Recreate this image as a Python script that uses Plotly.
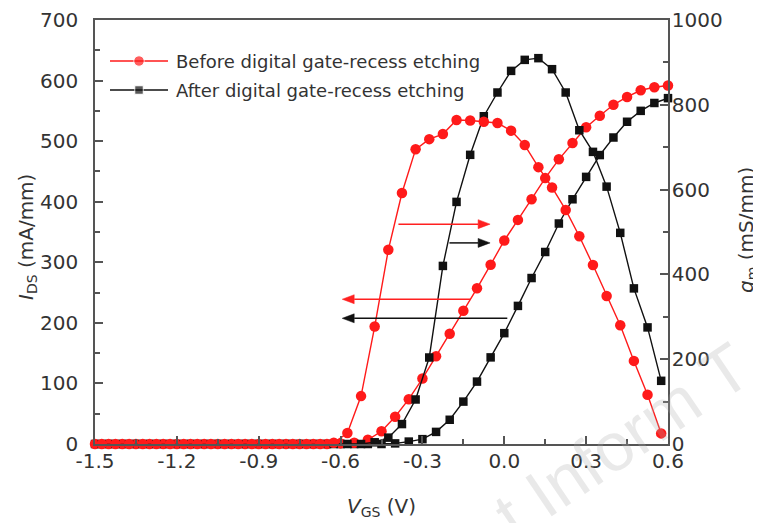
import plotly.graph_objects as go

# ---------------- data ----------------
vgs_ids = [-1.5, -1.45, -1.4, -1.35, -1.3, -1.25, -1.2, -1.15, -1.1, -1.05,
           -1.0, -0.95, -0.9, -0.85, -0.8, -0.75, -0.7, -0.65, -0.6, -0.55,
           -0.5, -0.45, -0.4, -0.35, -0.3, -0.25, -0.2, -0.15, -0.1, -0.05,
           0.0, 0.05, 0.1, 0.15, 0.2, 0.25, 0.3, 0.35, 0.4, 0.45, 0.5, 0.55, 0.6]
ids_before = [0, 0, 0, 0, 0, 0, 0, 0, 0, 0,
              0, 0, 0, 0, 0, 0, 0, 0, 1, 2,
              7, 21, 45, 74, 108, 145, 182, 220, 257, 296,
              336, 370, 404, 439, 470, 497, 523, 542, 560, 573, 584, 589, 592]
ids_after = [0, 0, 0, 0, 0, 0, 0, 0, 0, 0,
             0, 0, 0, 0, 0, 0, 0, 0, 0, 0,
             0, 0, 1, 4, 8, 20, 40, 70, 103, 143,
             183, 228, 274, 317, 364, 404, 441, 477, 506, 532, 550, 563, 571]

vgs_gm = [-1.475, -1.425, -1.375, -1.325, -1.275, -1.225, -1.175, -1.125, -1.075, -1.025,
          -0.975, -0.925, -0.875, -0.825, -0.775, -0.725, -0.675, -0.625, -0.575, -0.525,
          -0.475, -0.425, -0.375, -0.325, -0.275, -0.225, -0.175, -0.125, -0.075, -0.025,
          0.025, 0.075, 0.125, 0.175, 0.225, 0.275, 0.325, 0.375, 0.425, 0.475, 0.525, 0.575]
gm_before = [0, 0, 0, 0, 0, 0, 0, 0, 0, 0,
             0, 0, 0, 0, 0, 0, 0, 3, 26, 113,
             277, 458, 592, 695, 719, 731, 764, 763, 760, 757,
             739, 705, 653, 605, 552, 490, 422, 349, 280, 196, 116, 25]
gm_after = [0, 0, 0, 0, 0, 0, 0, 0, 0, 0,
            0, 0, 0, 0, 0, 0, 0, 0, 0, 0,
            4, 15, 47, 105, 204, 420, 571, 682, 773, 829,
            880, 906, 910, 884, 829, 740, 689, 607, 498, 367, 275, 149]

x_ticks = [-1.5, -1.2, -0.9, -0.6, -0.3, 0.0, 0.3, 0.6]
x_ticktext = ["-1.5", "-1.2", "-0.9", "-0.6", "-0.3", "0.0", "0.3", "0.6"]
x_minor = [-1.35, -1.05, -0.75, -0.45, -0.15, 0.15, 0.45]

series_names = ["Before digital gate-recess etching", "After digital gate-recess etching"]

# arrows: (tail V, head V, I_DS level on left axis, colour)
arrows = [
    (-0.388, -0.052, 363, "#ff2020"),
    (-0.201, -0.052, 332, "#111111"),
    (-0.125, -0.594, 239, "#ff2020"),
    (0.011, -0.594, 207.5, "#111111"),
]

RED = "#ff1a1a"
BLACK = "#111111"
AX = "#555555"
TXT = "#333333"
FONT = "DejaVu Sans"

# page geometry (the page body adds an 8 px offset)
OFF = 8
PAGE_W, PAGE_H = 761, 523
L, R, T, B = 95, 668, 20, 444          # plot area in page pixels
W, H = PAGE_W - OFF, PAGE_H - OFF       # figure size

def px(v):
    return L + (v + 1.5) / 2.1 * (R - L)

def py(i):
    return B - i / 700 * (B - T)

def paper_x(p):
    return (p - L) / (R - L)

def paper_y(p):
    return (B - p) / (B - T)

fig = go.Figure()

fig.add_trace(go.Scatter(x=vgs_ids, y=ids_after, mode="lines+markers",
                         line=dict(color=BLACK, width=1.4),
                         marker=dict(symbol="square", size=8.5, color=BLACK),
                         showlegend=False, cliponaxis=False))
fig.add_trace(go.Scatter(x=vgs_gm, y=gm_after, mode="lines+markers", yaxis="y2",
                         line=dict(color=BLACK, width=1.4),
                         marker=dict(symbol="square", size=8.5, color=BLACK),
                         showlegend=False, cliponaxis=False))
fig.add_trace(go.Scatter(x=vgs_ids, y=ids_before, mode="lines+markers",
                         line=dict(color=RED, width=1.4),
                         marker=dict(symbol="circle", size=10.5, color=RED),
                         showlegend=False, cliponaxis=False))
fig.add_trace(go.Scatter(x=vgs_gm, y=gm_before, mode="lines+markers", yaxis="y2",
                         line=dict(color=RED, width=1.4),
                         marker=dict(symbol="circle", size=10.5, color=RED),
                         showlegend=False, cliponaxis=False))

# custom legend samples on an overlay pixel axis
for i, (col, sym, sz) in enumerate([(RED, "circle", 10.5), (BLACK, "square", 8.5)]):
    yy = 61 + 29 * i
    fig.add_trace(go.Scatter(x=[110, 139, 168], y=[yy, yy, yy], mode="lines+markers",
                             xaxis="x3", yaxis="y3",
                             line=dict(color=col, width=1.4),
                             marker=dict(symbol=sym, size=[0, sz, 0], color=col),
                             showlegend=False, hoverinfo="skip"))

shapes = []
HL, HW = 12, 4.5
for tv, hv, iv, col in arrows:
    x0, x1, yy = px(tv), px(hv), py(iv)
    d = 1 if x1 > x0 else -1
    xb = x1 - d * HL
    shapes.append(dict(type="line", xref="x3", yref="y3", x0=x0, x1=xb, y0=yy, y1=yy,
                       line=dict(color=col, width=1.5)))
    shapes.append(dict(type="path", xref="x3", yref="y3",
                       path=f"M{x1},{yy} L{xb},{yy - HW} L{xb},{yy + HW} Z",
                       fillcolor=col, line=dict(color=col, width=0.5)))

annotations = []
for i, name in enumerate(series_names):
    yy = 61 + 29 * i
    annotations.append(dict(x=paper_x(174), y=paper_y(yy), xref="paper", yref="paper",
                            text=name, showarrow=False, xanchor="left", yanchor="middle",
                            font=dict(family=FONT, size=18, color=TXT)))

# axis titles
annotations.append(dict(x=paper_x(27), y=paper_y(237), xref="paper", yref="paper",
                        text="<i>I</i><sub>DS</sub> (mA/mm)", textangle=-90, showarrow=False,
                        xanchor="center", yanchor="middle",
                        font=dict(family=FONT, size=20, color=TXT)))
annotations.append(dict(x=paper_x(747), y=paper_y(230), xref="paper", yref="paper",
                        text="<i>g</i><sub>m</sub> (mS/mm)", textangle=-90, showarrow=False,
                        xanchor="center", yanchor="middle",
                        font=dict(family=FONT, size=20, color=TXT)))
annotations.append(dict(x=paper_x(381), y=paper_y(507), xref="paper", yref="paper",
                        text="<i>V</i><sub>GS</sub> (V)", showarrow=False,
                        xanchor="center", yanchor="middle",
                        font=dict(family=FONT, size=20, color=TXT)))

# faint watermark
annotations.append(dict(x=paper_x(622), y=paper_y(440), xref="paper", yref="paper",
                        text="t Inform T", textangle=-34, showarrow=False,
                        xanchor="center", yanchor="middle",
                        font=dict(family="Liberation Sans", size=68, color="rgba(170,170,170,0.26)")))

tickfont = dict(family=FONT, size=20, color=TXT)

fig.update_layout(
    width=W, height=H,
    margin=dict(l=L - OFF, r=PAGE_W - R, t=T - OFF, b=PAGE_H - B, pad=0, autoexpand=False),
    paper_bgcolor="white", plot_bgcolor="white",
    showlegend=False,
    xaxis=dict(range=[-1.5, 0.6], tickmode="array", tickvals=x_ticks, ticktext=x_ticktext,
               ticks="inside", ticklen=8, tickwidth=1.5, tickcolor=AX, automargin=False,
               showline=True, linecolor=AX, linewidth=1.5, mirror=True,
               showgrid=False, zeroline=False, tickfont=tickfont, ticklabelstandoff=-2,
               minor=dict(tickmode="array", tickvals=x_minor, ticks="inside", ticklen=5,
                          tickwidth=1.5, tickcolor=AX, showgrid=False)),
    yaxis=dict(range=[0, 700], tickmode="linear", tick0=0, dtick=100, automargin=False,
               ticks="inside", ticklen=8, tickwidth=1.5, tickcolor=AX,
               showline=True, linecolor=AX, linewidth=1.5,
               showgrid=False, zeroline=False, tickfont=tickfont, ticklabelstandoff=11,
               minor=dict(dtick=50, ticks="inside", ticklen=5, tickwidth=1.5,
                          tickcolor=AX, showgrid=False)),
    yaxis2=dict(range=[0, 1000], overlaying="y", side="right", tickmode="linear", tick0=0, dtick=200,
                ticks="inside", ticklen=8, tickwidth=1.5, tickcolor=AX, automargin=False,
                showline=True, linecolor=AX, linewidth=1.5,
                showgrid=False, zeroline=False, tickfont=tickfont, ticklabelstandoff=-2,
                minor=dict(dtick=100, ticks="inside", ticklen=5, tickwidth=1.5,
                           tickcolor=AX, showgrid=False)),
    xaxis3=dict(range=[L, R], overlaying="x", visible=False, fixedrange=True, automargin=False),
    yaxis3=dict(range=[B, T], overlaying="y", visible=False, fixedrange=True, automargin=False),
    shapes=shapes,
    annotations=annotations,
)

fig.write_html("out.html")
